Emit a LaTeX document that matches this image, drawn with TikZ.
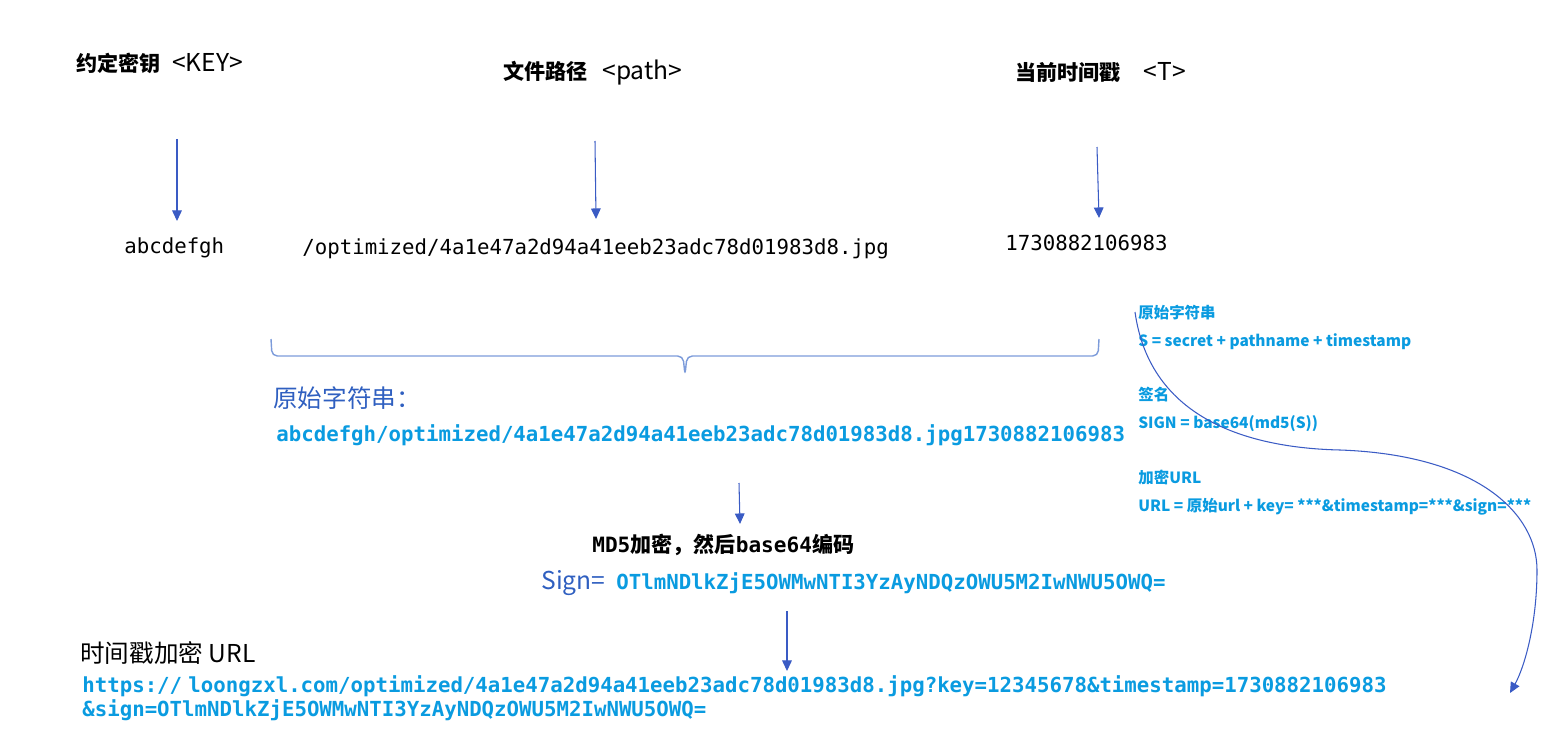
\documentclass[tikz,border=0pt]{standalone}
\usepackage{fontspec}
\setmainfont{Noto Sans CJK SC}
\setmonofont{DejaVu Sans Mono}
\usetikzlibrary{arrows.meta}
\definecolor{flowblue}{HTML}{3A5BC4}
\definecolor{bracelight}{HTML}{7C9BDA}
\definecolor{signblue}{HTML}{2F5FC0}
\definecolor{urlcyan}{HTML}{0A9BE0}
\newcommand{\tag}[1]{{\fontsize{14}{16}\selectfont #1}}

\begin{document}
\begin{tikzpicture}[x=0.02cm, y=-0.02cm,
    title/.style={anchor=base west, inner sep=0pt, font=\fontsize{12}{14}\selectfont},
    val/.style={anchor=base west, inner sep=0pt, font=\ttfamily\fontsize{11.8}{14}\selectfont},
    code/.style={val, text=urlcyan, font=\ttfamily\bfseries\fontsize{11.8}{14}\selectfont},
    big/.style={anchor=base west, inner sep=0pt, font=\fontsize{14}{16}\selectfont},
    note/.style={anchor=base west, inner sep=0pt, text=urlcyan, font=\bfseries\fontsize{8.8}{11}\selectfont},
    flow/.style={draw=flowblue, line width=0.6pt, -{Triangle[length=6pt,width=5.5pt]}}]
  \useasboundingbox (0,0) rectangle (1552,740);

  % inputs
  \node[title] (keyTitle) at (76,72) {{\bfseries 约定密钥}\hspace{0.55em}\tag{<KEY>}};
  \node[title] (pathTitle) at (503,80) {{\bfseries 文件路径}\hspace{0.7em}\tag{<path>}};
  \node[title] (tsTitle) at (1015,81) {{\bfseries 当前时间戳}\hspace{1.1em}\tag{<T>}};

  \node[val] (keyVal) at (124,253) {abcdefgh};
  \node[val] (pathVal) at (302,254) {/optimized/4a1e47a2d94a41eeb23adc78d01983d8.jpg};
  \node[val] (tsVal) at (1005,250) {1730882106983};

  \coordinate (k1) at (177,139);  \coordinate (k2) at (177,221);
  \coordinate (p1) at (595,141);  \coordinate (p2) at (596,219);
  \coordinate (t1) at (1097,147); \coordinate (t2) at (1099,218);
  \draw[flow] (k1) -- (k2);
  \draw[flow] (p1) -- (p2);
  \draw[flow] (t1) -- (t2);

  % concatenation brace
  \coordinate (braceL) at (271,339);
  \coordinate (braceR) at (1099,339);
  \coordinate (braceTip) at (685,375);
  \draw[bracelight, line width=0.8pt, rounded corners=3pt]
        (braceL) -- (272,356) -- (683,356) -- (braceTip)
        -- (687,356) -- (1098,356) -- (braceR);

  \node[big, text=signblue] (rawLabel) at (273,407) {原始字符串：};
  \node[code] (rawStr) at (276,441)
        {abcdefgh/optimized/4a1e47a2d94a41eeb23adc78d01983d8.jpg1730882106983};

  \coordinate (m1) at (739,483); \coordinate (m2) at (740,524);
  \draw[flow] (m1) -- (m2);

  \node[title] (md5Label) at (592,552)
        {{\ttfamily\bfseries MD5}{\bfseries 加密，然后}{\ttfamily\bfseries base64}{\bfseries 编码}};
  \node[big, text=signblue] (signLabel) at (541,589) {Sign=};
  \node[code] (signVal) at (616,589) {OTlmNDlkZjE5OWMwNTI3YzAyNDQzOWU5M2IwNWU5OWQ=};

  \coordinate (s1) at (787,611); \coordinate (s2) at (787,671);
  \draw[flow] (s1) -- (s2);

  % result
  \node[big] (urlLabel) at (80,662) {时间戳加密 URL};
  \node[code] (urlLine1) at (82,692)
        {https://\hspace{0.3em}loongzxl.com/optimized/4a1e47a2d94a41eeb23adc78d01983d8.jpg?key=12345678\&timestamp=1730882106983};
  \node[code] (urlLine2) at (82,716) {\&sign=OTlmNDlkZjE5OWMwNTI3YzAyNDQzOWU5M2IwNWU5OWQ=};

  % side notes
  \node[note] (noteRaw) at (1138,318) {原始字符串};
  \node[note] (noteRawF) at (1138,346) {S = secret + pathname + timestamp};
  \node[note] (noteSign) at (1138,400) {签名};
  \node[note] (noteSignF) at (1138,428) {SIGN = base64(md5(S))};
  \node[note] (noteUrl) at (1138,483) {加密URL};
  \node[note] (noteUrlF) at (1138,511) {URL = 原始url + key= ***\&timestamp=***\&sign=***};

  \coordinate (curveA) at (1135,312);
  \coordinate (curveB) at (1510,693);
  \draw[flow] (curveA) .. controls (1150,420) and (1250,448) .. (1340,450)
        .. controls (1480,455) and (1537,515) .. (1537,570)
        .. controls (1537,625) and (1524,668) .. (curveB);
\end{tikzpicture}
\end{document}
